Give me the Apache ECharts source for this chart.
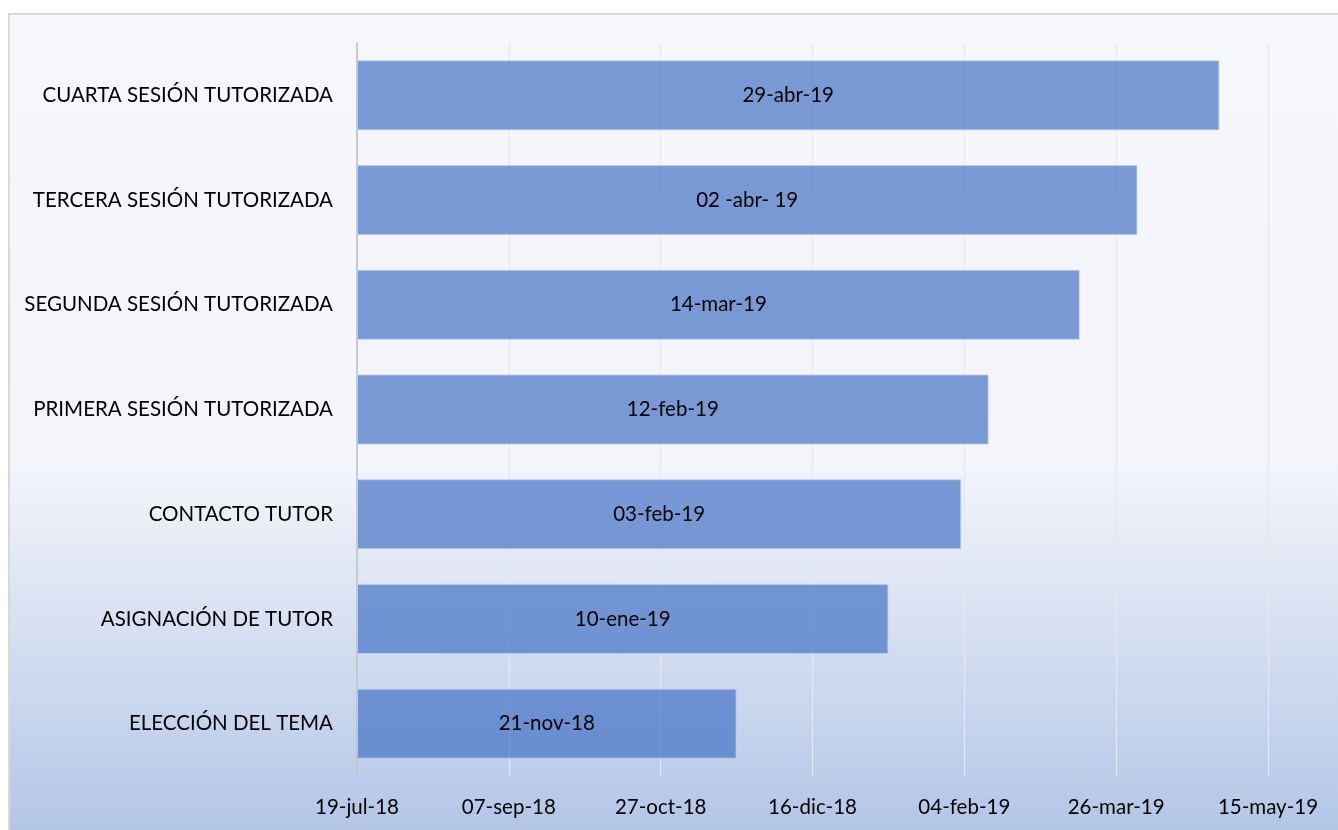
<!DOCTYPE html>
<html>
<head>
<meta charset="utf-8">
<script src="https://cdn.jsdelivr.net/npm/echarts@6/dist/echarts.min.js"></script>
<style>
html,body{margin:0;padding:0;background:#fff;width:1338px;height:830px;overflow:hidden;}
#frame{position:absolute;left:8px;top:13px;width:1330px;height:817px;border-top:2px solid #d9d9d9;border-left:2px solid #d9d9d9;box-sizing:border-box;}
#chart{position:absolute;left:0;top:0;width:1328px;height:815px;}
</style>
</head>
<body>
<div id="frame"><div id="chart"></div></div>
<script>
// Categories (bottom to top)
const categories = [
  'ELECCIÓN DEL TEMA',
  'ASIGNACIÓN DE TUTOR',
  'CONTACTO TUTOR',
  'PRIMERA SESIÓN TUTORIZADA',
  'SEGUNDA SESIÓN TUTORIZADA',
  'TERCERA SESIÓN TUTORIZADA',
  'CUARTA SESIÓN TUTORIZADA'
];
// End dates of each bar
const endDates = ['2018-11-21','2019-01-10','2019-02-03','2019-02-12','2019-03-14','2019-04-02','2019-04-29'];
// Labels shown on the bars
const barLabels = ['21-nov-18','10-ene-19','03-feb-19','12-feb-19','14-mar-19','02 -abr- 19','29-abr-19'];
// Axis start date and tick step (days)
const axisStart = '2018-07-19';
const axisEnd = '2019-05-15';
const tickStepDays = 50;
const monthsEs = ['ene','feb','mar','abr','may','jun','jul','ago','sep','oct','nov','dic'];

function toUTC(s){const p=s.split('-').map(Number);return Date.UTC(p[0],p[1]-1,p[2]);}
const DAY = 86400000;
const startMs = toUTC(axisStart);
const dayOffsets = endDates.map(d => Math.round((toUTC(d)-startMs)/DAY));
const maxOffset = Math.round((toUTC(axisEnd)-startMs)/DAY);

function fmt(off){
  const d = new Date(startMs + off*DAY);
  const dd = String(d.getUTCDate()).padStart(2,'0');
  const yy = String(d.getUTCFullYear()%100).padStart(2,'0');
  return dd+'-'+monthsEs[d.getUTCMonth()]+'-'+yy;
}

const FONT = 'Lato';
const FS = 20.5;
const chart = echarts.init(document.getElementById('chart'));
chart.setOption({
  animation:false,
  backgroundColor:{
    type:'linear',x:0,y:0,x2:0,y2:1,
    colorStops:[
      {offset:0,color:'#f5f7fb'},
      {offset:0.55,color:'#f3f5fa'},
      {offset:1,color:'#b3c6e7'}
    ]
  },
  grid:{left:347,top:28,width:911,height:733,containLabel:false},
  xAxis:{
    type:'value',min:0,max:maxOffset,interval:tickStepDays,
    axisLine:{show:false},
    axisTick:{show:false},
    splitLine:{show:true,lineStyle:{color:'#e8e8e8',width:1.2}},
    axisLabel:{formatter:v=>fmt(v),color:'#000',fontFamily:FONT,fontSize:FS,margin:21}
  },
  yAxis:{
    type:'category',data:categories,
    axisLine:{show:true,lineStyle:{color:'#bfbfbf',width:1.5}},
    axisTick:{show:false},
    axisLabel:{color:'#000',fontFamily:FONT,fontSize:FS,margin:24,padding:[4,0,0,0]}
  },
  series:[{
    type:'bar',
    data:dayOffsets,
    barWidth:70,
    itemStyle:{color:'rgba(68,114,196,0.7)',borderColor:'rgba(190,208,236,0.8)',borderWidth:1},
    label:{show:true,position:'inside',color:'#000',fontFamily:FONT,fontSize:FS,padding:[4,0,0,0],
      formatter:p=>barLabels[p.dataIndex]}
  }]
});
</script>
</body>
</html>
